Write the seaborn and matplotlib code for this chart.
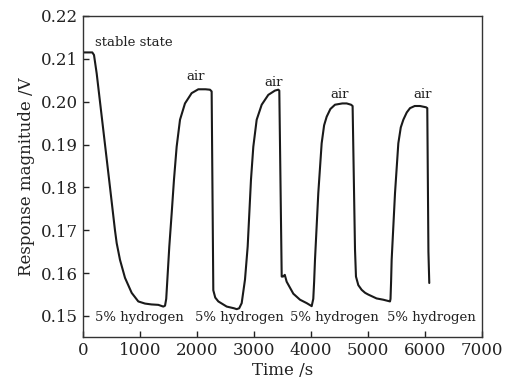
import matplotlib
matplotlib.use("Agg")
import matplotlib.pyplot as plt
import seaborn as sns
import pandas as pd

# Data
time_s = [0, 100, 163, 193, 240, 298, 386, 474, 561, 591, 649, 737, 854, 970, 1088, 1200, 1321, 1409, 1439, 1460,
          1480, 1514, 1556, 1596, 1643, 1702, 1789, 1906, 2023, 2150, 2228, 2257,
          2286, 2320, 2374, 2521, 2650, 2696, 2740, 2784,
          2842, 2889, 2918, 2947, 2988, 3047, 3135, 3251, 3368, 3426, 3444,
          3486, 3510, 3540, 3573, 3690, 3807, 3925, 4012, 4040, 4055,
          4070, 4128, 4187, 4230, 4275, 4340, 4421, 4550, 4626, 4702, 4730,
          4772, 4789, 4830, 4889, 4950, 5005, 5150, 5268, 5386, 5395, 5405,
          5415, 5474, 5532, 5575, 5620, 5680, 5737, 5820, 5912, 6018, 6040, 6060, 6075]
response_v = [0.2115, 0.2115, 0.2115, 0.2109, 0.2066, 0.2000, 0.1900, 0.1800, 0.1700, 0.1670, 0.1631, 0.1589, 0.1554, 0.1534, 0.1529, 0.1527, 0.1526, 0.1522, 0.1524, 0.1540,
              0.1585, 0.1662, 0.1740, 0.1818, 0.1895, 0.1958, 0.1996, 0.2020, 0.2029, 0.2029, 0.2028, 0.2024,
              0.1560, 0.1543, 0.1534, 0.1522, 0.1518, 0.1516, 0.1518, 0.1530,
              0.1585, 0.1662, 0.1740, 0.1818, 0.1895, 0.1958, 0.1993, 0.2016, 0.2026, 0.2028, 0.2026,
              0.1592, 0.1592, 0.1596, 0.1580, 0.1552, 0.1538, 0.1530, 0.1523, 0.1540, 0.1580,
              0.1631, 0.1787, 0.1903, 0.1945, 0.1965, 0.1983, 0.1993, 0.1996, 0.1996, 0.1993, 0.1990,
              0.1655, 0.1592, 0.1572, 0.1561, 0.1554, 0.1550, 0.1541, 0.1538, 0.1534, 0.1540, 0.1580,
              0.1631, 0.1787, 0.1903, 0.1940, 0.1958, 0.1975, 0.1985, 0.1990, 0.1990, 0.1987, 0.1985, 0.1650, 0.1577]

air_x = [1982, 3351, 4509, 5956]
air_y = [0.2058, 0.2044, 0.2018, 0.2018]
hyd_x = [982, 2746, 4406, 6105]
hyd_y = [0.1496, 0.1496, 0.1496, 0.1496]
x_ticks = [0, 1000, 2000, 3000, 4000, 5000, 6000, 7000]
y_ticks = [0.15, 0.16, 0.17, 0.18, 0.19, 0.20, 0.21, 0.22]

sns.set_theme(style="ticks")
plt.rcParams['font.family'] = ['DejaVu Serif']

fig = plt.figure(figsize=(5.10, 3.88), dpi=100)
ax = fig.add_axes([83/510, 1 - 337/388, (482-83)/510, (337-16)/388])

df = pd.DataFrame({"t": time_s, "r": response_v})
sns.lineplot(data=df, x="t", y="r", ax=ax, sort=False, estimator=None,
             color="#1a1a1a", linewidth=1.5)

ax.set_xlim(0, 7000)
ax.set_ylim(0.1451, 0.22)
ax.set_xticks(x_ticks)
ax.set_xticklabels([str(v) for v in x_ticks])
ax.set_yticks(y_ticks)
ax.set_yticklabels([f"{v:.2f}" for v in y_ticks])
ax.tick_params(direction="in", length=4, width=1, labelsize=12, colors="#222222",
               top=False, right=False)
for s in ax.spines.values():
    s.set_linewidth(1.0)
    s.set_color("#333333")

ax.set_xlabel("Time /s", fontsize=12, labelpad=2, color="#222222")
ax.set_ylabel("Response magnitude /V", fontsize=12, labelpad=4, color="#222222")

ax.text(211, 0.2137, "stable state", fontsize=9.5, ha="left", va="center", color="#222222")
for x, y in zip(air_x, air_y):
    ax.text(x, y, "air", fontsize=9.5, ha="center", va="center", color="#222222")
for x, y in zip(hyd_x, hyd_y):
    ax.text(x, y, "5% hydrogen", fontsize=9.5, ha="center", va="center", color="#222222")

fig.savefig("out.png", dpi=100)
